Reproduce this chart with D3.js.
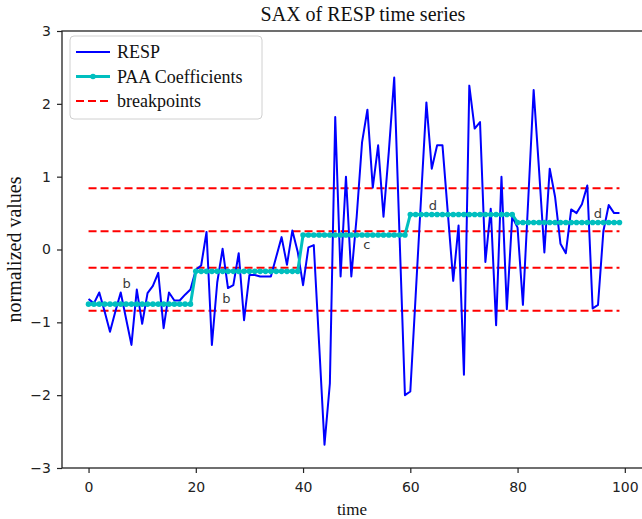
<!DOCTYPE html>
<html>
<head>
<meta charset="utf-8">
<script src="https://cdn.jsdelivr.net/npm/d3@7"></script>
<style>
  body { margin: 0; background: #fff; }
  svg { display: block; }
</style>
</head>
<body>
<div id="chart"></div>
<script>
// データ ---------------------------------------------------------------
const resp = [
  -0.68, -0.74, -0.59, -0.85, -1.13, -0.85, -0.59, -0.95, -1.31, -0.55,
  -1.02, -0.60, -0.50, -0.32, -1.08, -0.59, -0.70, -0.70, -0.62, -0.55,
  -0.28, -0.22, 0.24, -1.31, -0.45, 0.01, -0.53, -0.49, -0.05, -0.97,
  -0.35, -0.35, -0.37, -0.37, -0.37, -0.10, 0.17, -0.21, 0.26, -0.03,
  -0.49, 0.03, 0.06, -1.30, -2.68, -1.84, 1.82, -0.37, 1.00, -0.37,
  0.45, 1.47, 1.92, 0.85, 1.43, 0.45, 1.35, 2.36, 0.17, -2.00,
  -1.95, -0.63, 0.70, 2.02, 1.11, 1.43, 1.43, 0.50, -0.43, 0.33,
  -1.72, 2.25, 1.66, 1.75, -0.17, 0.56, -1.04, 1.00, -0.82, 0.45,
  0.30, -0.76, 0.70, 2.19, 1.10, -0.04, 1.11, 0.72, 0.08, -0.05,
  0.55, 0.50, 0.62, 0.88, -0.81, -0.76, 0.25, 0.61, 0.50, 0.50
];
const paaValues = [-0.75, -0.30, 0.20, 0.48, 0.37];
const segLength = 20;
const breakpoints = [-0.84, -0.25, 0.25, 0.84];
const letters = ['b', 'b', 'c', 'd', 'd'];
const letterX = [7.1, 25.7, 51.9, 64.2, 95.0];
const letterY = [-0.46, -0.67, 0.07, 0.61, 0.50];
const xTicks = [0, 20, 40, 60, 80, 100];
const yTicks = [-3, -2, -1, 0, 1, 2, 3];

// SVG領域 ---------------------------------------------------------------
const width = 642, height = 519;
const margin = { top: 31, bottom: 51, left: 62, right: -4 };
const serif = '"Liberation Serif", "Times New Roman", serif';
const sans = '"DejaVu Sans", sans-serif';

const svg = d3.select('#chart').append('svg')
  .attr('width', width)
  .attr('height', height);

const xScale = d3.scaleLinear()
  .domain([-4.95, 103.95])
  .range([margin.left, width - margin.right]);
const yScale = d3.scaleLinear()
  .domain([-3, 3])
  .range([height - margin.bottom, margin.top]);

svg.append('defs').append('clipPath')
  .attr('id', 'clip')
  .append('rect')
  .attr('x', margin.left)
  .attr('y', margin.top)
  .attr('width', width - margin.right - margin.left)
  .attr('height', height - margin.top - margin.bottom);

const plot = svg.append('g').attr('clip-path', 'url(#clip)');

// breakpoints ---------------------------------------------------------
plot.selectAll('.bp')
  .data(breakpoints)
  .enter()
  .append('line')
  .attr('class', 'bp')
  .attr('x1', xScale(0))
  .attr('x2', xScale(resp.length - 1))
  .attr('y1', d => yScale(d))
  .attr('y2', d => yScale(d))
  .attr('stroke', '#ff0000')
  .attr('stroke-width', 2)
  .attr('stroke-dasharray', '8,4');

// RESP ----------------------------------------------------------------
const line = d3.line()
  .x((d, i) => xScale(i))
  .y(d => yScale(d));
plot.append('path')
  .datum(resp)
  .attr('fill', 'none')
  .attr('stroke', '#0000ff')
  .attr('stroke-width', 2)
  .attr('stroke-linejoin', 'round')
  .attr('d', line);

// PAA -----------------------------------------------------------------
const paaPoints = resp.map((d, i) => ({ i: i, v: paaValues[Math.floor(i / segLength)] }));
plot.append('path')
  .datum(paaPoints)
  .attr('fill', 'none')
  .attr('stroke', '#00bfbf')
  .attr('stroke-width', 3)
  .attr('d', d3.line().x(d => xScale(d.i)).y(d => yScale(d.v)));
plot.selectAll('.paa-dot')
  .data(paaPoints)
  .enter()
  .append('circle')
  .attr('class', 'paa-dot')
  .attr('cx', d => xScale(d.i))
  .attr('cy', d => yScale(d.v))
  .attr('r', 2.8)
  .attr('fill', '#00bfbf');

// 文字 ----------------------------------------------------------------
svg.selectAll('.letter')
  .data(letters)
  .enter()
  .append('text')
  .attr('class', 'letter')
  .attr('x', (d, i) => xScale(letterX[i]))
  .attr('y', (d, i) => yScale(letterY[i]))
  .attr('dy', '0.35em')
  .attr('text-anchor', 'middle')
  .attr('font-family', sans)
  .attr('font-size', '13px')
  .attr('fill', '#3a3a3a')
  .text(d => d);

// 軸 ------------------------------------------------------------------
const minus = d => (d < 0 ? '\u2212' + Math.abs(d) : String(d));
const axisX = d3.axisBottom(xScale)
  .tickValues(xTicks)
  .tickSize(5)
  .tickSizeOuter(0)
  .tickPadding(9);
const axisY = d3.axisLeft(yScale)
  .tickValues(yTicks)
  .tickFormat(minus)
  .tickSize(5)
  .tickSizeOuter(0)
  .tickPadding(6);
const gX = svg.append('g')
  .attr('transform', 'translate(0,' + (height - margin.bottom) + ')')
  .call(axisX);
const gY = svg.append('g')
  .attr('transform', 'translate(' + margin.left + ',0)')
  .call(axisY);
[gX, gY].forEach(g => {
  g.selectAll('text')
    .attr('font-family', sans)
    .attr('font-size', '14px')
    .attr('fill', '#222');
  g.selectAll('line').attr('stroke', '#222').attr('stroke-width', 1.2);
  g.select('.domain').remove();
});

// 枠 ------------------------------------------------------------------
svg.append('rect')
  .attr('x', margin.left)
  .attr('y', margin.top)
  .attr('width', width - margin.right - margin.left)
  .attr('height', height - margin.top - margin.bottom)
  .attr('fill', 'none')
  .attr('stroke', '#222')
  .attr('stroke-width', 1.3);

// 表名・軸ラベル -------------------------------------------------------
svg.append('text')
  .attr('x', 363)
  .attr('y', 21)
  .attr('text-anchor', 'middle')
  .attr('font-family', serif)
  .attr('font-size', '20px')
  .attr('fill', '#111')
  .text('SAX of RESP time series');
svg.append('text')
  .attr('x', 352)
  .attr('y', 515)
  .attr('text-anchor', 'middle')
  .attr('font-family', serif)
  .attr('font-size', '17px')
  .attr('fill', '#111')
  .text('time');
svg.append('text')
  .attr('transform', 'translate(21,' + yScale(0) + ') rotate(-90)')
  .attr('text-anchor', 'middle')
  .attr('font-family', serif)
  .attr('font-size', '20px')
  .attr('fill', '#111')
  .text('normalized values');

// 凡例 ----------------------------------------------------------------
const legendItems = [
  { label: 'RESP', color: '#0000ff', dash: null, marker: false, w: 2 },
  { label: 'PAA Coefficients', color: '#00bfbf', dash: null, marker: true, w: 3 },
  { label: 'breakpoints', color: '#ff0000', dash: '8,4', marker: false, w: 2 }
];
const legend = svg.append('g').attr('transform', 'translate(70,36)');
legend.append('rect')
  .attr('width', 192)
  .attr('height', 83)
  .attr('rx', 4)
  .attr('fill', 'rgba(255,255,255,0.85)')
  .attr('stroke', '#d0d0d0')
  .attr('stroke-width', 1);
const li = legend.selectAll('.li')
  .data(legendItems)
  .enter()
  .append('g')
  .attr('transform', (d, i) => 'translate(0,' + (16 + i * 24.5) + ')');
li.append('line')
  .attr('x1', 6)
  .attr('x2', 40)
  .attr('stroke', d => d.color)
  .attr('stroke-width', d => d.w)
  .attr('stroke-dasharray', d => d.dash);
li.filter(d => d.marker)
  .append('circle')
  .attr('cx', 23)
  .attr('r', 2.8)
  .attr('fill', d => d.color);
li.append('text')
  .attr('x', 47)
  .attr('dy', '0.35em')
  .attr('font-family', serif)
  .attr('font-size', '18px')
  .attr('fill', '#111')
  .text(d => d.label);
</script>
</body>
</html>
